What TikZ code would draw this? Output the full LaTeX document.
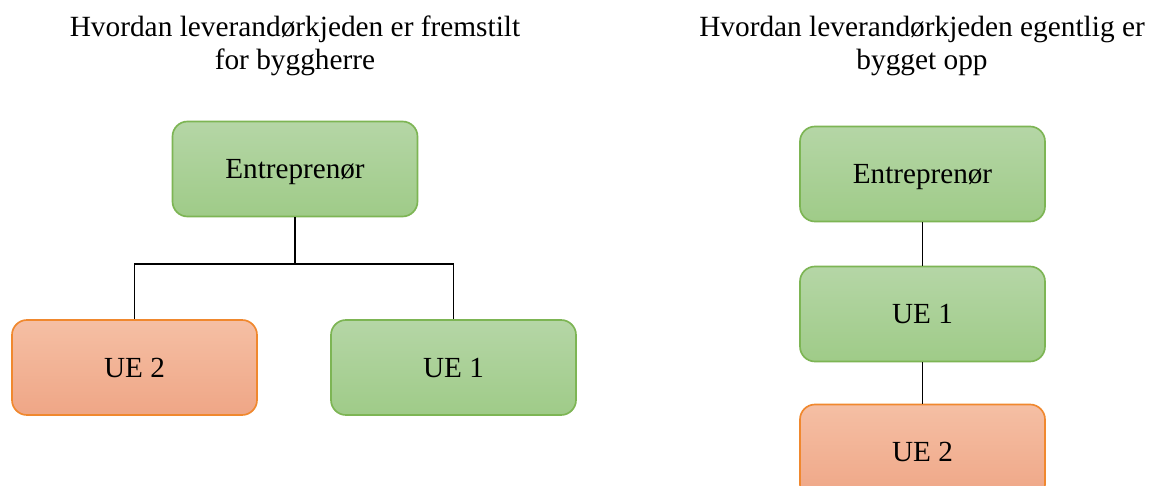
\documentclass[tikz,border=0pt]{standalone}
\usepackage{fontspec}
\setmainfont{Liberation Serif}
\definecolor{gtop}{HTML}{B5D6A6}
\definecolor{gbot}{HTML}{9FCB88}
\definecolor{gline}{HTML}{7DB554}
\definecolor{otop}{HTML}{F5BFA4}
\definecolor{obot}{HTML}{EFA686}
\definecolor{oline}{HTML}{F0882E}
\begin{document}
\begin{tikzpicture}[x=0.6pt,y=-0.6pt,
  boxbase/.style={line width=1pt,rounded corners=9pt,minimum width=147pt,minimum height=57pt,text height=11.8pt,text depth=0pt,font=\fontsize{17.5}{20}\selectfont},
  gbox/.style={boxbase,draw=gline,top color=gtop,bottom color=gbot},
  obox/.style={boxbase,draw=oline,top color=otop,bottom color=obot},
  title/.style={align=center,font=\fontsize{17.6}{20}\selectfont},
  conn/.style={draw=black,line width=0.7pt}]
\useasboundingbox (0,0) rectangle (1154,486);
\fill[white] (0,0) rectangle (1154,486);
\node[title] (t1) at (295,46) {Hvordan leverandørkjeden er fremstilt\\for byggherre};
\node[title] (t2) at (922,46) {Hvordan leverandørkjeden egentlig er\\bygget opp};
\node[gbox] (e1) at (295,169) {Entreprenør};
\node[obox] (u2a) at (134.5,367.5) {UE 2};
\node[gbox] (u1a) at (453.5,367.5) {UE 1};
\coordinate (j) at (295,264);
\draw[conn] (e1.south) -- (j);
\draw[conn] (j) -| (u2a.north);
\draw[conn] (j) -| (u1a.north);
\node[gbox] (e2) at (922.5,174) {Entreprenør};
\node[gbox] (u1b) at (922.5,314) {UE 1};
\node[obox] (u2b) at (922.5,452) {UE 2};
\draw[conn] (e2) -- (u1b);
\draw[conn] (u1b) -- (u2b);
\end{tikzpicture}
\end{document}
